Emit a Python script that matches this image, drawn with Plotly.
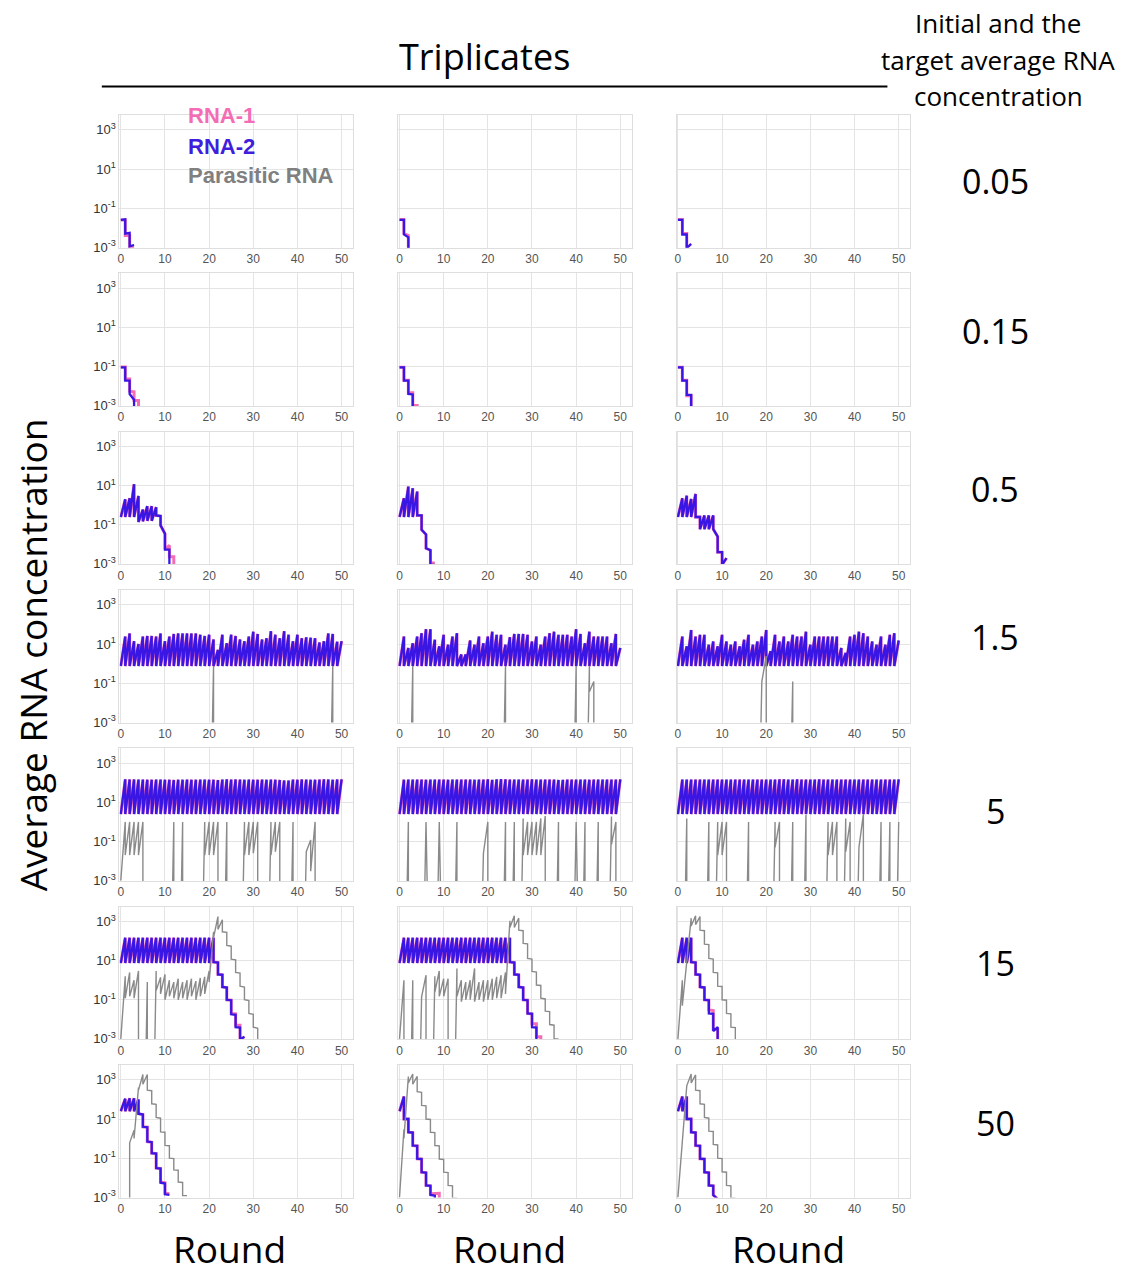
import plotly.graph_objects as go

W, H = 1128, 1278

ROW_LABELS = ["0.05", "0.15", "0.5", "1.5", "5", "15", "50"]
X_TICKS = [0, 10, 20, 30, 40, 50]
Y_TICKS = [1e-3, 1e-1, 1e1, 1e3]
Y_TICKTEXT = ["10<sup>-3</sup>", "10<sup>-1</sup>", "10<sup>1</sup>", "10<sup>3</sup>"]
N_ROUNDS = 50

# Series are start/end-of-round pairs: s0, e0, s1, e1, ...
# (start of round k sits at x=k, end of round k at x=k+1); 0 = not present.

# ---- Row 1: 0.05 ----
r1c1_rna1 = [0.025, 0.025, 0.004, 0.004, 0.0009, 0.001]
r1c1_rna2 = [0.025, 0.027, 0.005, 0.0055, 0.0011, 0.0013]
r1c2_rna1 = [0.026, 0.026, 0.005, 0.004, 0.0005]
r1c2_rna2 = [0.025, 0.025, 0.0045, 0.0032, 0.0005]
r1c3_rna1 = [0.026, 0.026, 0.005, 0.005, 0.0008]
r1c3_rna2 = [0.025, 0.025, 0.0045, 0.0045, 0.0009, 0.0015]

# ---- Row 2: 0.15 ----
r2c1_rna1 = [0.095, 0.095, 0.023, 0.023, 0.0054, 0.005, 0.0018, 0.0018, 0.0004]
r2c1_rna2 = [0.089, 0.089, 0.019, 0.019, 0.0039, 0.002, 0.0005]
r2c2_rna1 = [0.092, 0.092, 0.02, 0.02, 0.0045, 0.0045, 0.001, 0.001, 0.0004]
r2c2_rna2 = [0.089, 0.089, 0.019, 0.019, 0.0039, 0.0037, 0.0005]
r2c3_rna1 = [0.092, 0.092, 0.02, 0.02, 0.0032, 0.0032, 0.0005]
r2c3_rna2 = [0.089, 0.089, 0.019, 0.019, 0.0035, 0.0035, 0.0005]

# ---- Row 3: 0.5 ----
r3c1_rna2 = [0.25, 2.0, 0.25, 2.3, 0.25, 12, 0.25, 3.0, 0.14, 0.6, 0.15, 0.9,
             0.16, 0.9, 0.16, 0.8, 0.3, 0.28, 0.093, 0.035, 0.0054, 0.0054, 0.0005]
r3c1_rna1 = [0.25, 2.0, 0.25, 2.3, 0.25, 12, 0.25, 3.0, 0.14, 0.6, 0.15, 0.9,
             0.16, 0.9, 0.16, 0.8, 0.3, 0.28, 0.093, 0.035, 0.0054, 0.009, 0.0023, 0.0023, 0.0004]
r3c2_rna2 = [0.25, 2.3, 0.25, 9, 0.25, 7.4, 0.25, 5.0, 0.3, 0.3, 0.056, 0.032,
             0.0063, 0.005, 0.0009, 0.0009]
r3c2_rna1 = [0.25, 2.3, 0.25, 9, 0.25, 7.4, 0.25, 5.0, 0.3, 0.3, 0.056, 0.032,
             0.0063, 0.005, 0.0011, 0.0011]
r3c3_rna2 = [0.25, 2.3, 0.25, 3.1, 0.25, 2.1, 0.25, 3.8, 0.25, 0.25, 0.06, 0.3,
             0.06, 0.3, 0.06, 0.3, 0.06, 0.025, 0.004, 0.004, 0.0009, 0.002]
r3c3_rna1 = list(r3c3_rna2)

# ---- Row 4: 1.5 (troughs at 0.75 per RNA) ----
trough_r4 = 0.75
r4c1_peaks = [24, 35, 14, 10, 24, 26, 26, 24, 35, 14, 24, 33, 35, 35, 35, 35, 35, 30, 26, 30,
              17, 5, 30, 11, 30, 26, 17, 14, 24, 43, 33, 17, 20, 45, 30, 20, 45, 30, 14, 30,
              20, 22, 21, 20, 12, 14, 35, 33, 13, 14]
r4c2_peaks = [24, 6.3, 11, 24, 36, 57, 57, 16.5, 7.6, 29.5, 9.3, 24, 36, 2.9, 2.9, 15, 9.3, 24, 11, 24,
              43, 29.5, 29.5, 9.3, 22.5, 33, 33, 33, 29.5, 13.6, 24, 9.3, 24, 36, 43, 29.5, 29.5, 29.5, 24, 57,
              33, 11, 43, 24, 24, 24, 24, 11, 33, 6.3]
r4c3_peaks = [24, 7.6, 52, 24, 29.5, 29.5, 9.3, 13.6, 7.6, 29.5, 13.6, 9.3, 13.6, 7.6, 16.5, 29.5, 9.3, 13.6, 24, 52,
              4.3, 29.5, 13.6, 24, 13.6, 29.5, 24, 24, 43, 9.3, 24, 24, 24, 24, 24, 24, 6.3, 3.5, 24, 29.5,
              43, 36, 24, 13.6, 9.3, 24, 9.3, 29.5, 36, 15]
# parasitic RNA events: (round, start value, end value)
r4c1_para_events = [(20, 0, 0.75), (47, 0, 0.75)]
r4c2_para_events = [(2, 0, 0.75), (23, 0, 0.75), (39, 0, 0.75), (42, 0, 0.75), (43, 0.036, 0.12)]
r4c3_para_events = [(18, 0, 0.12), (19, 0.12, 2.4), (25, 0, 0.12)]

# ---- Row 5: 5 (troughs at 2.5 per RNA) ----
trough_r5 = 2.5
r5c1_peaks = [150, 148, 148, 146, 146, 145, 145, 146, 146, 145, 144, 140, 143, 145, 146, 145, 145, 146, 146, 145,
              144, 138, 146, 150, 146, 148, 146, 144, 146, 145, 145, 146, 145, 146, 145, 140, 132, 130, 146, 145,
              148, 146, 145, 144, 146, 150, 148, 145, 148, 150]
r5c2_peaks = [145, 146, 146, 146, 146, 145, 146, 146, 146, 146, 145, 146, 146, 146, 146, 146, 145, 146, 146, 150,
              142, 150, 152, 150, 146, 146, 146, 146, 146, 150, 146, 146, 146, 146, 146, 140, 142, 146, 146, 146,
              146, 146, 145, 146, 146, 146, 146, 146, 146, 150]
r5c3_peaks = [146, 146, 146, 146, 146, 146, 146, 146, 146, 146, 146, 146, 146, 146, 146, 146, 146, 146, 146, 146,
              146, 146, 150, 150, 146, 146, 150, 146, 146, 146, 146, 150, 146, 146, 146, 146, 146, 146, 146, 146,
              146, 146, 146, 146, 146, 146, 146, 146, 146, 150]
r5c1_para_events = [(0, 0.001, 1), (1, 0.02, 1), (2, 0.02, 1), (3, 0.02, 1), (4, 0.02, 1),
                    (11, 0, 1), (13, 0, 1),
                    (18, 0, 1), (19, 0.02, 1), (20, 0.02, 1), (21, 0.02, 1),
                    (23, 0, 1),
                    (27, 0, 1), (28, 0.02, 1), (29, 0.02, 1), (30, 0.025, 1),
                    (33, 0, 1), (34, 0.02, 1), (35, 0.03, 1),
                    (38, 0, 1),
                    (41, 0, 0.03), (42, 0.03, 0.12), (43, 0.003, 1)]
r5c2_para_events = [(1, 0, 1), (5, 0, 1), (8, 0, 1), (12, 0, 1),
                    (18, 0, 0.025), (19, 0.025, 1),
                    (23, 0, 1), (25, 0, 1),
                    (27, 0, 1.5), (28, 0.02, 1), (29, 0.02, 1), (30, 0.02, 1), (31, 0.02, 1.5), (32, 0.02, 2),
                    (35, 0, 1), (39, 0, 1), (41, 0, 1), (44, 0, 1),
                    (47, 0, 1.9), (48, 0.07, 1)]
r5c3_para_events = [(1, 0, 1.5), (6, 0, 1),
                    (8, 0, 1), (9, 0.02, 1), (10, 0.02, 1),
                    (15, 0, 1),
                    (21, 0, 1), (22, 0.05, 1),
                    (25, 0, 1), (28, 0, 2.3),
                    (33, 0, 1), (34, 0.02, 1), (35, 0.02, 1),
                    (37, 0, 1.5), (38, 0.03, 1),
                    (40, 0, 0.05), (41, 0.05, 2.5),
                    (45, 0, 1), (47, 0, 1), (49, 0, 1)]

# ---- Row 6: 15 (troughs at 7.5 per RNA) ----
trough_r6 = 7.5
r6c1_peaks = [148, 150, 148, 148, 150, 148, 148, 148, 150, 148, 148, 148, 150, 148, 148, 148, 150, 148, 148, 148, 150]
r6c2_peaks = [148, 150, 148, 148, 150, 148, 148, 148, 150, 148, 148, 148, 150, 148, 148, 148, 150, 148, 148, 148,
              150, 148, 148, 148, 150]
r6c3_peaks = [148, 150, 148]
r6c1_tail2 = [8.5, 8.0, 2.0, 1.9, 0.45, 0.42, 0.1, 0.095, 0.018, 0.017, 0.004, 0.0038, 0.0009, 0.0013]
r6c1_tail1 = [8.5, 8.0, 2.0, 1.9, 0.45, 0.42, 0.1, 0.095, 0.02, 0.019, 0.005, 0.005, 0.0011, 0.0011]
r6c2_tail2 = [8.5, 8.0, 2.0, 1.9, 0.45, 0.42, 0.1, 0.095, 0.02, 0.019, 0.004, 0.0038, 0.0008]
r6c2_tail1 = [8.5, 8.0, 2.0, 1.9, 0.45, 0.42, 0.1, 0.095, 0.02, 0.019, 0.006, 0.006, 0.0013, 0.0013, 0.0004]
r6c3_tail2 = [8.5, 8.0, 2.0, 1.9, 0.45, 0.42, 0.1, 0.095, 0.02, 0.019, 0.0025, 0.004, 0.0006]
r6c3_tail1 = [8.5, 8.0, 2.0, 1.9, 0.45, 0.42, 0.1, 0.095, 0.03, 0.028, 0.003, 0.003, 0.0006]
r6c1_para = [0.001, 1.6, 0.12, 2.5, 0.15, 1.0, 0.12, 3.0, 0, 0, 0, 0.8, 0, 0, 0, 3.0,
             0.3, 1.4, 0.2, 2.0, 0.1, 1.0, 0.15, 0.8, 0.12, 1.2, 0.1, 0.8, 0.12, 1.0, 0.1, 1.2,
             0.15, 0.9, 0.1, 1.3, 0.15, 1.5, 0.2, 3.0, 0.8, 300, 150, 1800, 400, 1250, 300, 280,
             60, 55, 12, 11, 2.5, 2.3, 0.5, 0.45, 0.1, 0.09, 0.02, 0.018, 0.004, 0.0035, 0.0008, 0.0008]
r6c2_para = [0.001, 1, 0, 0, 0, 1, 0, 0, 0, 0.14, 0.14, 1.8, 0, 0, 0, 1.6,
             0.25, 3, 0.15, 1.2, 0.15, 1.2, 0, 0, 0, 4, 0.15, 1.0, 0.08, 0.8, 0.1, 1.0,
             0.1, 4, 0.08, 0.8, 0.1, 1.0, 0.08, 1.0, 0.1, 1.2, 0.1, 1.5, 0.12, 1.8, 0.12, 2.5,
             0.2, 1100, 500, 2000, 500, 1500, 360, 340, 76, 72, 13, 12, 2.8, 2.6, 0.57, 0.54,
             0.12, 0.11, 0.026, 0.025, 0.0054, 0.005, 0.001, 0.001]
r6c3_para = [0.001, 1, 0.05, 8, 5, 1500, 600, 2000, 700, 1800, 360, 340, 70, 66, 13, 12,
             2.5, 2.4, 0.5, 0.48, 0.1, 0.095, 0.02, 0.019, 0.004, 0.0038, 0.0009, 0.0009]

# ---- Row 7: 50 ----
r7c1_rna2 = [25, 110, 25, 115, 25, 115, 25, 100, 18.6, 17, 4.0, 3.8, 0.7, 0.65, 0.18, 0.17,
             0.031, 0.029, 0.0055, 0.005, 0.0014, 0.0013]
r7c1_rna1 = [25, 110, 25, 115, 25, 115, 25, 100, 18.6, 17, 4.0, 3.8, 0.7, 0.65, 0.18, 0.17,
             0.031, 0.029, 0.006, 0.0055, 0.0016, 0.0015]
r7c1_para = [0, 0, 0, 0, 0.6, 2.7, 1.0, 400, 300, 1900, 600, 1900, 300, 280, 60, 56,
             12, 11, 2.2, 2.1, 0.45, 0.43, 0.1, 0.095, 0.025, 0.024, 0.006, 0.0057, 0.0012, 0.0012]
r7c2_rna2 = [25, 142, 10, 10, 2.1, 2.0, 0.44, 0.42, 0.093, 0.09, 0.019, 0.018, 0.004, 0.0038,
             0.0013, 0.0012, 0.0004]
r7c2_rna1 = [25, 142, 10, 10, 2.1, 2.0, 0.44, 0.42, 0.093, 0.09, 0.019, 0.018, 0.004, 0.0038,
             0.0015, 0.0015, 0.0016, 0.0016, 0.0004]
r7c2_para = [0.001, 3, 1, 1500, 700, 2000, 600, 1500, 250, 230, 50, 47, 10, 9.5, 2.1, 2.0,
             0.44, 0.42, 0.09, 0.085, 0.019, 0.018, 0.004, 0.0038, 0.0009, 0.0009]
r7c3_rna2 = [25, 142, 25, 142, 10, 10, 2.1, 2.0, 0.44, 0.42, 0.093, 0.09, 0.019, 0.018,
             0.004, 0.0038, 0.0013, 0.0008]
r7c3_rna1 = list(r7c3_rna2)
r7c3_para = [0.001, 0.8, 0.5, 400, 500, 2000, 700, 1800, 300, 280, 60, 56, 12, 11, 2.4, 2.3,
             0.5, 0.47, 0.1, 0.095, 0.02, 0.019, 0.004, 0.0038, 0.0009, 0.0009]


def saw(trough, peaks):
    out = []
    for p in peaks:
        out += [trough, p]
    return out


def sparse(events, n=N_ROUNDS):
    vals = [0.0] * (2 * n)
    for k, s, e in events:
        vals[2 * k] = s
        vals[2 * k + 1] = e
    return vals


def pts(vals):
    xs = [(i + 1) // 2 for i in range(len(vals))]
    ys = [v if v > 0 else 1e-12 for v in vals]
    return xs, ys


panels = [
    [(r1c1_rna1, r1c1_rna2, []), (r1c2_rna1, r1c2_rna2, []), (r1c3_rna1, r1c3_rna2, [])],
    [(r2c1_rna1, r2c1_rna2, []), (r2c2_rna1, r2c2_rna2, []), (r2c3_rna1, r2c3_rna2, [])],
    [(r3c1_rna1, r3c1_rna2, []), (r3c2_rna1, r3c2_rna2, []), (r3c3_rna1, r3c3_rna2, [])],
    [(saw(trough_r4, p), saw(trough_r4, p), sparse(ev)) for p, ev in
     [(r4c1_peaks, r4c1_para_events), (r4c2_peaks, r4c2_para_events), (r4c3_peaks, r4c3_para_events)]],
    [(saw(trough_r5, p), saw(trough_r5, p), sparse(ev)) for p, ev in
     [(r5c1_peaks, r5c1_para_events), (r5c2_peaks, r5c2_para_events), (r5c3_peaks, r5c3_para_events)]],
    [(saw(trough_r6, r6c1_peaks) + r6c1_tail1, saw(trough_r6, r6c1_peaks) + r6c1_tail2, r6c1_para),
     (saw(trough_r6, r6c2_peaks) + r6c2_tail1, saw(trough_r6, r6c2_peaks) + r6c2_tail2, r6c2_para),
     (saw(trough_r6, r6c3_peaks) + r6c3_tail1, saw(trough_r6, r6c3_peaks) + r6c3_tail2, r6c3_para)],
    [(r7c1_rna1, r7c1_rna2, r7c1_para), (r7c2_rna1, r7c2_rna2, r7c2_para), (r7c3_rna1, r7c3_rna2, r7c3_para)],
]

PINK = "rgb(243,108,180)"
BLUE = "rgb(58,22,228)"
GRAY = "rgb(138,138,138)"

COL_LEFT = [117.7, 396.9, 675.8]
PANEL_W = 234.0
ROW_TOP0 = 115.7
ROW_STEP = 159.2
PANEL_H = 133.3

fig = go.Figure()
layout = {}
for i in range(7):
    for j in range(3):
        n = i * 3 + j + 1
        xk = "xaxis" if n == 1 else f"xaxis{n}"
        yk = "yaxis" if n == 1 else f"yaxis{n}"
        xr = "x" if n == 1 else f"x{n}"
        yr = "y" if n == 1 else f"y{n}"
        left = COL_LEFT[j]
        top = ROW_TOP0 + ROW_STEP * i
        layout[xk] = dict(
            domain=[left / W, (left + PANEL_W) / W], anchor=yr, range=[-0.3, 52.6],
            tickvals=X_TICKS, showgrid=True, gridcolor="#e4e4e4", gridwidth=1,
            zeroline=False, showline=True, linecolor="#dedede", linewidth=1, mirror=True,
            ticks="", tickfont=dict(family="Liberation Sans, Arial", size=12, color="#555"),
            fixedrange=True,
        )
        layout[yk] = dict(
            domain=[1 - (top + PANEL_H) / H, 1 - top / H], anchor=xr, type="log",
            range=[-3.02, 3.76], tickvals=Y_TICKS, ticktext=Y_TICKTEXT,
            showticklabels=(j == 0), showgrid=True, gridcolor="#e4e4e4", gridwidth=1,
            zeroline=False, showline=True, linecolor="#dedede", linewidth=1, mirror=True,
            ticks="", tickfont=dict(family="Liberation Sans, Arial", size=13, color="#333"),
            fixedrange=True,
        )
        rna1, rna2, para = panels[i][j]
        for vals, color, width in [(rna1, PINK, 3.0), (rna2, BLUE, 2.3), (para, GRAY, 1.4)]:
            if not vals:
                continue
            xs, ys = pts(vals)
            fig.add_trace(go.Scatter(x=xs, y=ys, mode="lines", xaxis=xr, yaxis=yr,
                                     line=dict(color=color, width=width), showlegend=False,
                                     hoverinfo="skip"))

ann = []
FONT = "Open Sans, Liberation Sans, Arial"


def A(text, x, y, size, color="black", xanchor="center", angle=0, bold=False, family=FONT):
    t = f"<b>{text}</b>" if bold else text
    ann.append(dict(text=t, x=x / W, y=1 - y / H, xref="paper", yref="paper",
                    xanchor=xanchor, yanchor="middle", showarrow=False, textangle=angle,
                    font=dict(family=family, size=size, color=color)))


A("Triplicates", 483, 57, 36)
A("Initial and the", 998, 23, 26)
A("target average RNA", 998, 60, 26)
A("concentration", 998, 97, 26)
for lab, y in zip(ROW_LABELS, [182, 333, 492, 641, 815, 968, 1129]):
    A(lab, 995, y, 34)
A("Average RNA concentration", 30, 658, 37, angle=-90)
for x in [228, 508, 788]:
    A("Round", x, 1255, 37)

LEG = "Liberation Sans, Arial"
A("RNA-1", 184, 116, 22, color=PINK, xanchor="left", bold=True, family=LEG)
A("RNA-2", 184, 147, 22, color="rgb(64,30,220)", xanchor="left", bold=True, family=LEG)
A("Parasitic RNA", 184, 176, 22, color="rgb(128,128,128)", xanchor="left", bold=True, family=LEG)

fig.update_layout(
    width=W, height=H, margin=dict(l=0, r=0, t=0, b=0, pad=0),
    paper_bgcolor="white", plot_bgcolor="white", showlegend=False,
    annotations=ann,
    shapes=[dict(type="line", xref="paper", yref="paper", x0=100 / W, x1=887 / W,
                 y0=1 - 87 / H, y1=1 - 87 / H, line=dict(color="black", width=2))],
    **layout,
)

fig.write_html("out.html")
